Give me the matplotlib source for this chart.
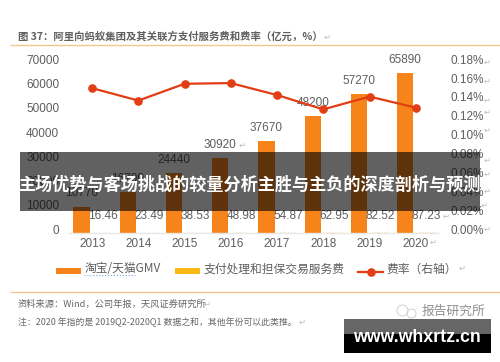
import matplotlib
matplotlib.use("Agg")
import matplotlib.pyplot as plt
from matplotlib.patches import Rectangle
from matplotlib.lines import Line2D
from matplotlib.transforms import ScaledTranslation

CJK = ['Noto Sans CJK SC', 'DejaVu Sans']
LAT = ['Liberation Sans', 'Noto Sans CJK SC', 'DejaVu Sans']
plt.rcParams['font.family'] = LAT

years = ['2013', '2014', '2015', '2016', '2017', '2018', '2019', '2020']
gmv = [10770, 16790, 24440, 30920, 37670, 48200, 57270, 65890]
fees = [16.46, 23.49, 38.53, 48.98, 54.87, 62.95, 82.52, 87.23]
rate = [0.153, 0.1399, 0.1577, 0.1584, 0.1457, 0.1306, 0.1441, 0.1324]
left_ticks = [0, 10000, 20000, 30000, 40000, 50000, 60000, 70000]
right_ticks = [0, 0.02, 0.04, 0.06, 0.08, 0.10, 0.12, 0.14, 0.16, 0.18]
series_names = ['淘宝/天猫GMV', '支付处理和担保交易服务费', '费率（右轴）']
title = '图 37：阿里向蚂蚁集团及其关联方支付服务费和费率（亿元，%）'
source = '资料来源：Wind，公司年报，天风证券研究所'
note = '注：2020 年指的是 2019Q2-2020Q1 数据之和，其他年份可以此类推。'
overlay = '主场优势与客场挑战的较量分析主胜与主负的深度剖析与预测'
brand = '报告研究所'
site = 'www.whxrtz.cn'

W, H = 500, 362
GREY = '#5e5e5e'
ORANGE = '#F7841B'
YELLOW = '#FDB913'
RED = '#E23D14'
RULE = '#F9C28E'

fig = plt.figure(figsize=(W / 100, H / 100), dpi=100, facecolor='white')
def fx(x): return x / W
def fy(y): return 1 - y / H

ax = fig.add_axes([fx(69), fy(232.7), 370 / W, 170 / H])
ax2 = ax.twinx()
ax.set_zorder(1)
ax2.set_zorder(2)
ax.patch.set_visible(False)
ax2.patch.set_visible(False)

xs = list(range(len(years)))
off, bw = 0.231, 0.353
b1 = ax.bar([x - off for x in xs], gmv, bw, color=ORANGE, label=series_names[0])
b2 = ax.bar([x + off for x in xs], fees, bw, color=YELLOW, label=series_names[1])
for p in b2:
    p.set_snap(False)
    p.set_linewidth(0)
l1, = ax2.plot(xs, rate, color=RED, lw=1.6, marker='o', ms=5.2, label=series_names[2])

ax.set_xlim(-0.5, 7.5)
ax.set_ylim(0, 70000)
ax2.set_ylim(0, 0.18)
ax.set_xticks(xs, years)
ax.set_yticks(left_ticks, [str(v) for v in left_ticks])
ax2.set_yticks(right_ticks, [f'{v:.2f}%' for v in right_ticks])
ax.tick_params(axis='x', length=0, pad=3.8, labelsize=8.5, labelcolor=GREY)
ax.tick_params(axis='y', length=0, pad=7, labelsize=8.5, labelcolor=GREY)
ax2.tick_params(axis='y', length=0, pad=8, labelsize=8.5, labelcolor=GREY)
up = ScaledTranslation(0, 3.5 / 100, fig.dpi_scale_trans)
for lab in ax.get_yticklabels() + ax2.get_yticklabels():
    lab.set_transform(lab.get_transform() + up)
for a in (ax, ax2):
    for s in a.spines.values():
        s.set_visible(False)
ax.spines['bottom'].set_visible(True)
ax.spines['bottom'].set_color('#e8e8e8')
ax.spines['bottom'].set_linewidth(1)

for x, v in zip(xs, gmv):
    ax.annotate(str(v), (x - off, v), xytext=(0, 9.4), textcoords='offset points',
                ha='center', va='center', fontsize=8.5, color=GREY, annotation_clip=False)
for x, v in zip(xs, fees):
    ax.annotate(f'{v:.2f}', (x + off, 0), xytext=(0, 12), textcoords='offset points',
                ha='center', va='center', fontsize=8.5, color=GREY)

leg = ax.legend(handles=[b1, b2, l1], ncol=3, frameon=False,
                prop={'family': CJK, 'size': 8.5}, loc='center left',
                bbox_to_anchor=(fx(56), fy(272)), bbox_transform=fig.transFigure,
                borderpad=0, borderaxespad=0, handlelength=2.1, handleheight=0.45,
                handletextpad=0.3, columnspacing=1.2, labelcolor=GREY)
for t in leg.get_texts():
    t.set_position((0, 3))

# header and footer
fig.text(fx(18), fy(37), title, family=CJK, fontsize=7.45, fontweight='bold', color='#5f5f5f', va='center')
fig.add_artist(Line2D([fx(11), 1], [fy(45.3)] * 2, color=RULE, lw=1))
fig.add_artist(Line2D([fx(11), 1], [fy(292)] * 2, color=RULE, lw=1))
fig.text(fx(18), fy(304), source, family=CJK, fontsize=6.7, color='#666666', va='center')
fig.text(fx(18), fy(322.7), note, family=CJK, fontsize=6.4, color='#666666', va='center')
fig.add_artist(Line2D([fx(84), fx(135)], [fy(275)] * 2, color='#7aa7e0', lw=0.8, ls=':'))

# stray paragraph marks present in the source screenshot
marks = [(327, 37), (207, 304), (302, 322), (462, 268), (433, 242), (446, 216), (241.6, 145),
         (487, 62), (487, 81), (487, 100), (487, 112), (487, 130), (487, 160), (487, 174),
         (487, 191), (484, 205), (487, 229)]
for mx, my in marks:
    fig.text(fx(mx), fy(my), '↵', family='DejaVu Sans', fontsize=6, color='#bdbdbd', ha='center', va='center')

# wechat-style brand mark
for cx, cy, r in [(402, 310, 5.5), (411, 313, 4.5)]:
    fig.add_artist(Line2D([fx(cx)], [fy(cy)], marker='o', ms=r * 1.44, mfc='none', mec='#d0d0d0', mew=0.7, ls=''))
fig.text(fx(453), fy(311), brand, family=CJK, fontsize=9.2, color='#8f8f8f', ha='center', va='center')

# banners on top of the chart
def band(x0, y0, x1, y1, color, alpha):
    fig.add_artist(Rectangle((fx(x0), fy(y1)), (x1 - x0) / W, (y1 - y0) / H, transform=fig.transFigure,
                             facecolor=color, alpha=alpha, edgecolor='none', zorder=10))
band(20, 152, 480, 211, 'black', 0.62)
fig.text(fx(249.5), fy(185), overlay, family=CJK, fontsize=12.3, fontweight='bold', color='white',
         ha='center', va='center', zorder=11)
band(344, 319, 491, 334, 'black', 0.6)
band(344, 334, 491, 353, 'black', 1)
fig.text(fx(417), fy(337), site, fontsize=12.8, fontweight='bold', color='white', ha='center', va='center', zorder=11)

fig.savefig('out.png', dpi=100)
